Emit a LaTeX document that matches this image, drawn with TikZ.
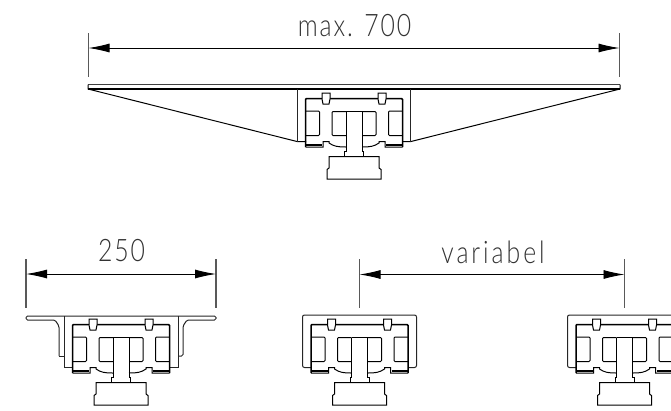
\documentclass[tikz,border=0pt]{standalone}
\usepackage{fontspec}
\setmainfont[FakeStretch=0.8,LetterSpace=6]{Lato Light}
\usetikzlibrary{arrows.meta}
\tikzset{
  wagen/.pic={
    \draw [line width=1.5pt,rounded corners=1pt] (-48.5,48.5) -- (-48.5,0) -- (48.5,0) -- (48.5,48.5);
    \foreach \s in {-1,1} {
      \draw [line width=1pt,fill=white] (\s*32,-5.5) -- (\s*24,-5.5) -- (\s*24,0.5) -- (\s*25,5.5) -- (\s*31,5.5) -- (\s*32,0.5) -- cycle;
      \draw [line width=1pt,rounded corners=1pt] (\s*48.5,12.5) -- (\s*34.5,12.5) -- (\s*34.5,37) -- (\s*48.5,37);
      \draw [line width=1pt,rounded corners=1pt] (\s*8,13) -- (\s*22,13) -- (\s*22,37) -- (\s*8,37);
      \draw [line width=1.6pt] (\s*8,37) -- (\s*20,37);
      \draw [line width=1pt] (\s*48.5,48.5) -- (\s*31,48.5) -- (\s*31,43) -- (\s*25,43) -- (\s*25,44.5) .. controls (\s*20,48) and (\s*16,48.5) .. (\s*8,48.5);
      \draw [line width=1.4pt] (\s*48,46.5) -- (\s*32,46.5);
    }
    \draw [line width=1.5pt] (-8,13) -- (8,13);
    \draw [line width=1pt] (-8,13) -- (-8,53) -- (-9.5,53) -- (-9.5,58);
    \draw [line width=1pt] (8,13) -- (8,53) -- (9.5,53) -- (9.5,58);
    \draw [line width=1pt] (-9.5,58) -- (-25,58) -- (-25,69.5) -- (-27,71) -- (-27,80.5) -- (27,80.5) -- (27,71) -- (25,69.5) -- (25,58) -- cycle;
  },
  masslinie/.style={line width=0.9pt,{Latex[length=21pt,width=9pt]}-{Latex[length=21pt,width=9pt]}},
  hilfslinie/.style={line width=1.2pt,black!65},
  masstext/.style={font=\fontsize{31}{31}\selectfont,inner sep=0pt,text=black!80},
  blech/.style={line width=1pt,black!85}
}
\begin{document}
\begin{tikzpicture}[x=1pt,y=-1pt]
\clip (0,0) rectangle (671,410);

% oben
\coordinate (a1) at (88.5,48);
\coordinate (a2) at (619.5,48);
\draw [hilfslinie] (88.5,33) -- (88.5,77);
\draw [hilfslinie] (619.5,33) -- (619.5,77);
\draw [masslinie] (a1) -- (a2);
\node [masstext] (maxtext) at (354.5,26) {max. 700};
\draw [line width=0.9pt,black!75] (88,84.5) -- (620,84.5);
\draw [line width=1.1pt] (88,89) -- (620,89);
\draw [line width=1pt] (88,84.5) -- (88,89) -- (297,141.5) -- (306,141.5);
\draw [line width=1pt] (620,84.5) -- (620,89) -- (411,141.5) -- (402,141.5);
\draw [blech,line width=1.4pt] (297.5,89) -- (297.5,141.5);
\draw [blech,line width=1.4pt] (410.5,89) -- (410.5,141.5);
\pic at (354,98.5) {wagen};

% links
\coordinate (b1) at (26,274);
\coordinate (b2) at (216,274);
\draw [hilfslinie] (26,259) -- (26,308);
\draw [hilfslinie] (216,259) -- (216,308);
\draw [masslinie] (b1) -- (b2);
\node [masstext] (breite) at (121.5,251) {250};
\draw [blech,rounded corners=1.5pt] (59,356) -- (59,326) -- (55,320) -- (26,320) -- (26,316) -- (216,316) -- (216,320) -- (187,320) -- (183,326) -- (183,356) -- (178.5,356);
\draw [blech] (59,356) -- (64,356);
\draw [blech] (64,316) -- (64,367.5) -- (72.5,367.5);
\draw [blech] (178,316) -- (178,367.5) -- (169.5,367.5);
\pic at (121,324.5) {wagen};

% mitte
\coordinate (c1) at (359.5,274.5);
\coordinate (c2) at (624.5,274.5);
\draw [hilfslinie] (359.5,259) -- (359.5,308);
\draw [hilfslinie] (624.5,259) -- (624.5,308);
\draw [masslinie] (c1) -- (c2);
\node [masstext] (variabel) at (493,252) {\addfontfeatures{LetterSpace=9.5}variabel};
\foreach \x in {359.5,624.5} {
\draw [blech,rounded corners=2pt] (\x-48.5,367.5) -- (\x-57,367.5) -- (\x-57,315) -- (\x+57,315) -- (\x+57,367.5) -- (\x+48.5,367.5);
\pic at (\x,324.5) {wagen};}
\end{tikzpicture}
\end{document}
